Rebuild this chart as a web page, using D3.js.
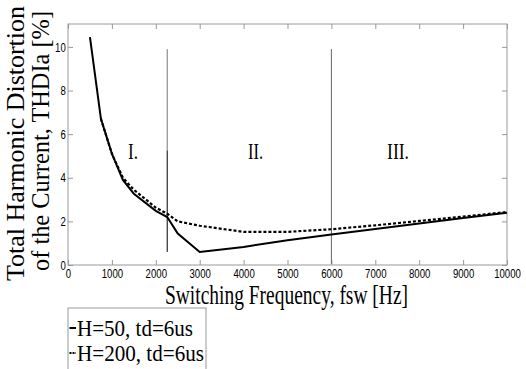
<!DOCTYPE html>
<html>
<head>
<meta charset="utf-8">
<script src="https://cdn.jsdelivr.net/npm/d3@7"></script>
<style>
  body { margin: 0; background: #fff; }
  .tick text { font-family: "Liberation Sans", Arial, sans-serif; font-size: 13px; fill: #000; }
  .serif { font-family: "Liberation Serif", "Times New Roman", serif; fill: #000; }
</style>
</head>
<body>
<div id="chart"></div>
<script>
// data
const freqA = [500, 750, 1000, 1250, 1500, 2000, 2260, 2500, 3000, 4000, 5000, 6000, 7000, 8000, 9000, 10000];
const thdA  = [10.45, 6.7, 5.1, 3.9, 3.27, 2.48, 2.2, 1.44, 0.6, 0.83, 1.13, 1.4, 1.65, 1.9, 2.15, 2.4];
const freqB = [750, 1000, 1250, 1500, 2000, 2260, 2500, 3000, 4000, 5000, 6000, 7000, 8000, 9000, 10000];
const thdB  = [6.7, 5.1, 4.0, 3.45, 2.63, 2.35, 2.0, 1.8, 1.52, 1.52, 1.64, 1.82, 2.02, 2.22, 2.43];
const seriesNames = ["H=50, td=6us", "H=200, td=6us"];
const regionLines = [2260, 6000];
const regionLabels = ["I.", "II.", "III."];
const regionLabelX = [1367, 4100, 7267];
const xTicks = d3.range(0, 10001, 1000);
const yTicks = d3.range(0, 11, 2);

const width = 526, height = 369;
const margin = { top: 24, right: 19, bottom: 104, left: 68 };
const innerW = width - margin.left - margin.right;
const innerH = height - margin.top - margin.bottom;

const svg = d3.select("#chart").append("svg")
  .attr("width", width).attr("height", height)
  .style("display", "block");

const g = svg.append("g").attr("transform", `translate(${margin.left},${margin.top})`);

const x = d3.scaleLinear().domain([0, 10000]).range([0, innerW]);
const y = d3.scaleLinear().domain([0, 11.05]).range([innerH, 0]);

// frame
g.append("rect")
  .attr("width", innerW).attr("height", innerH)
  .attr("fill", "none").attr("stroke", "#999").attr("stroke-width", 1);

// axes, ticks pointing inward
g.append("g").attr("transform", `translate(0,${innerH})`)
  .call(d3.axisBottom(x).tickValues(xTicks).tickFormat(d3.format("d")).tickSizeInner(-5).tickSizeOuter(0).tickPadding(4));
g.append("g")
  .call(d3.axisLeft(y).tickValues(yTicks).tickSizeInner(-5).tickSizeOuter(0).tickPadding(3));
g.append("g")
  .call(d3.axisTop(x).tickValues(xTicks).tickFormat("").tickSizeInner(-5).tickSizeOuter(0));
g.append("g").attr("transform", `translate(${innerW},0)`)
  .call(d3.axisRight(y).tickValues(yTicks).tickFormat("").tickSizeInner(-5).tickSizeOuter(0));
g.selectAll(".domain").remove();
g.selectAll(".tick line").attr("stroke", "#999");
// the digits in the picture are tall and narrow
g.selectAll(".tick text").attr("transform", "scale(0.74,1)");

// region boundaries
g.append("line")
  .attr("x1", x(regionLines[0])).attr("x2", x(regionLines[0]))
  .attr("y1", y(9.9)).attr("y2", y(5.25))
  .attr("stroke", "#777").attr("stroke-width", 1);
g.append("line")
  .attr("x1", x(regionLines[0])).attr("x2", x(regionLines[0]))
  .attr("y1", y(5.25)).attr("y2", y(0.6))
  .attr("stroke", "#000").attr("stroke-width", 1);
g.append("line")
  .attr("x1", x(regionLines[1])).attr("x2", x(regionLines[1]))
  .attr("y1", y(9.9)).attr("y2", y(0.05))
  .attr("stroke", "#666").attr("stroke-width", 1);

// region labels
const regionW = [10, 15, 22];
g.selectAll(".region")
  .data(regionLabels)
  .enter().append("text")
  .attr("class", "serif region")
  .attr("x", (d, i) => x(regionLabelX[i]))
  .attr("y", y(4.85))
  .attr("font-size", 24)
  .attr("textLength", (d, i) => regionW[i])
  .attr("lengthAdjust", "spacingAndGlyphs")
  .text((d) => d);

// curves
const line = d3.line().x((d) => x(d[0])).y((d) => y(d[1]));
const dataA = freqA.map((f, i) => [f, thdA[i]]);
const dataB = freqB.map((f, i) => [f, thdB[i]]);

g.append("path").datum(dataB)
  .attr("d", line).attr("fill", "none")
  .attr("stroke", "#000").attr("stroke-width", 2.2).attr("stroke-dasharray", "3,2");
g.append("path").datum(dataA)
  .attr("d", line).attr("fill", "none")
  .attr("stroke", "#000").attr("stroke-width", 2);

// axis titles
svg.append("text")
  .attr("class", "serif")
  .attr("x", 165).attr("y", 304)
  .attr("font-size", 27)
  .attr("textLength", 243)
  .attr("lengthAdjust", "spacingAndGlyphs")
  .text("Switching Frequency, fsw [Hz]");

svg.append("text")
  .attr("class", "serif")
  .attr("transform", "translate(24,281) rotate(-90)")
  .attr("font-size", 25)
  .attr("textLength", 275)
  .attr("lengthAdjust", "spacingAndGlyphs")
  .text("Total Harmonic Distortion");
svg.append("text")
  .attr("class", "serif")
  .attr("transform", "translate(49,271) rotate(-90)")
  .attr("font-size", 25)
  .attr("textLength", 260)
  .attr("lengthAdjust", "spacingAndGlyphs")
  .text("of the Current, THDIa [%]");

// legend
const legendW = [116, 127];
const lg = svg.append("g").attr("transform", "translate(68,308)");
lg.append("rect")
  .attr("width", 138).attr("height", 70)
  .attr("fill", "#fff").attr("stroke", "#999");
seriesNames.forEach((name, i) => {
  const yy = 20 + i * 25;
  lg.append("line")
    .attr("x1", 1.5).attr("x2", 8)
    .attr("y1", yy).attr("y2", yy)
    .attr("stroke", "#000").attr("stroke-width", 2)
    .attr("stroke-dasharray", i === 0 ? null : "2,1");
  lg.append("text")
    .attr("class", "serif")
    .attr("x", 9)
    .attr("y", yy + 8)
    .attr("font-size", 24)
    .attr("textLength", legendW[i])
    .attr("lengthAdjust", "spacingAndGlyphs")
    .text(name);
});
</script>
</body>
</html>
